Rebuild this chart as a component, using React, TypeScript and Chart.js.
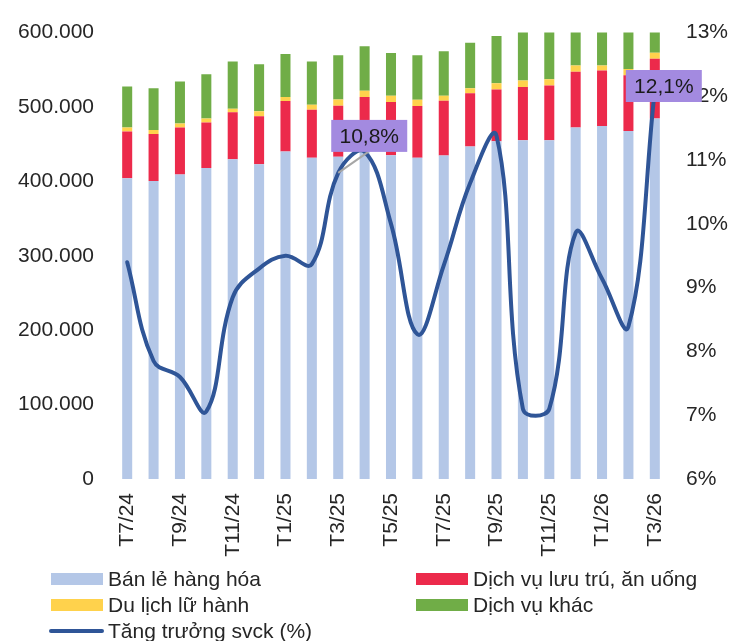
import React, { useEffect, useRef } from 'react';
import { Chart, registerables } from 'chart.js';

Chart.register(...registerables);

const categories = [
  'T7/24', 'T8/24', 'T9/24', 'T10/24', 'T11/24', 'T12/24',
  'T1/25', 'T2/25', 'T3/25', 'T4/25', 'T5/25', 'T6/25', 'T7/25', 'T8/25', 'T9/25', 'T10/25', 'T11/25', 'T12/25',
  'T1/26', 'T2/26', 'T3/26',
];

// Bán lẻ hàng hóa
const banLe = [404300, 400700, 409200, 418000, 429900, 422900, 440200, 431800, 433100, 441000, 435200, 431800, 434800, 446800, 453900, 455200, 455200, 472500, 474300, 467700, 484400];
// Dịch vụ lưu trú, ăn uống
const luuTru = [62900, 63000, 63300, 61100, 63000, 64700, 67800, 64600, 68600, 72300, 71400, 69500, 73600, 71800, 69600, 71800, 73700, 75000, 74900, 74900, 80400];
// Du lịch lữ hành
const duLich = [5300, 5300, 5300, 5300, 4800, 6700, 5300, 6700, 8500, 8400, 8400, 8400, 6600, 6700, 8400, 8500, 8300, 8400, 6700, 8400, 8000];
// Dịch vụ khác
const khac = [55000, 56300, 56400, 59500, 63500, 63300, 58100, 58100, 59300, 59800, 57700, 59800, 59900, 61100, 63400, 65200, 65000, 55000, 55000, 55000, 45000];
// Tăng trưởng svck (%)
const tangTruong = [9.4, 7.85, 7.6, 7.06, 8.85, 9.3, 9.5, 9.37, 10.8, 11.13, 10.0, 8.27, 9.35, 10.64, 11.38, 7.1, 7.1, 9.86, 9.14, 8.39, 12.1];

// indices of points that carry a value label
const labelledIdx = [8, 20];

const leftMax = 600000;
const leftStep = 100000;
const rightMin = 6;
const rightMax = 13;

const FONT = "'Liberation Sans', Arial, sans-serif";
const TEXT = '#262626';
const C_BLUE = '#B4C7E7';
const C_RED = '#EC2A4B';
const C_YELLOW = '#FFD24C';
const C_GREEN = '#70AD47';
const C_LINE = '#2F5597';
const C_LABEL = '#A38AE0';

const fmtThousands = (v: number) => String(v).replace(/\B(?=(\d{3})+(?!\d))/g, '.');
const fmtPct = (v: number) => String(v).replace('.', ',') + '%';

const labelPlugin = {
  id: 'valueLabels',
  afterDatasetsDraw(chart: any) {
    const meta = chart.getDatasetMeta(0);
    const ctx = chart.ctx;
    const styles: Record<number, { dx: number; dy: number; leader: boolean }> = {
      8: { dx: 31, dy: -37, leader: true },
      20: { dx: 9, dy: -4, leader: false },
    };
    ctx.save();
    ctx.font = `21px ${FONT}`;
    labelledIdx.forEach((i) => {
      const pt = meta.data[i];
      if (!pt) return;
      const st = styles[i];
      const cx = pt.x + st.dx;
      const cy = pt.y + st.dy;
      const w = 76;
      const h = 32;
      if (st.leader) {
        ctx.strokeStyle = '#A6A6A6';
        ctx.lineWidth = 2;
        ctx.beginPath();
        ctx.moveTo(pt.x, pt.y);
        ctx.lineTo(cx - 1, cy + h / 2);
        ctx.stroke();
      }
      ctx.fillStyle = C_LABEL;
      ctx.fillRect(cx - w / 2, cy - h / 2, w, h);
      ctx.fillStyle = '#1a1a1a';
      ctx.textAlign = 'center';
      ctx.textBaseline = 'middle';
      ctx.fillText(fmtPct(tangTruong[i]), cx, cy + 1);
    });
    ctx.restore();
  },
};

function Legend() {
  const items = [
    { label: 'Bán lẻ hàng hóa', color: C_BLUE, x: 51, y: 579, line: false },
    { label: 'Dịch vụ lưu trú, ăn uống', color: C_RED, x: 416, y: 579, line: false },
    { label: 'Du lịch lữ hành', color: C_YELLOW, x: 51, y: 605, line: false },
    { label: 'Dịch vụ khác', color: C_GREEN, x: 416, y: 605, line: false },
    { label: 'Tăng trưởng svck (%)', color: C_LINE, x: 49, y: 631, line: true },
  ];
  return (
    <>
      {items.map((it) => (
        <div
          key={it.label}
          style={{
            position: 'absolute',
            left: it.x,
            top: it.y - 13,
            height: 26,
            display: 'flex',
            alignItems: 'center',
            fontFamily: FONT,
            fontSize: 21,
            color: TEXT,
            whiteSpace: 'nowrap',
          }}
        >
          {it.line ? (
            <span style={{ display: 'inline-block', width: 55, height: 4, borderRadius: 2, background: it.color, marginRight: 4 }} />
          ) : (
            <span style={{ display: 'inline-block', width: 52, height: 12, background: it.color, marginRight: 5 }} />
          )}
          <span>{it.label}</span>
        </div>
      ))}
    </>
  );
}

export default function App() {
  const ref = useRef<HTMLCanvasElement | null>(null);

  useEffect(() => {
    if (!ref.current) return;
    const barCommon = {
      type: 'bar' as const,
      yAxisID: 'y',
      order: 1,
      barPercentage: 0.38,
      categoryPercentage: 1,
      borderWidth: 0,
    };
    const chart = new Chart(ref.current, {
      type: 'bar',
      data: {
        labels: categories,
        datasets: [
          {
            type: 'line',
            label: 'Tăng trưởng svck (%)',
            data: tangTruong,
            yAxisID: 'y1',
            order: 0,
            borderColor: C_LINE,
            backgroundColor: C_LINE,
            borderWidth: 4,
            tension: 0.4,
            pointRadius: 0,
            fill: false,
            borderCapStyle: 'round',
          } as any,
          { ...barCommon, label: 'Bán lẻ hàng hóa', data: banLe, backgroundColor: C_BLUE },
          { ...barCommon, label: 'Dịch vụ lưu trú, ăn uống', data: luuTru, backgroundColor: C_RED },
          { ...barCommon, label: 'Du lịch lữ hành', data: duLich, backgroundColor: C_YELLOW },
          { ...barCommon, label: 'Dịch vụ khác', data: khac, backgroundColor: C_GREEN },
        ],
      },
      options: {
        responsive: false,
        animation: false,
        devicePixelRatio: 1,
        layout: { padding: { top: 28, bottom: 0, left: 0, right: 0 } },
        plugins: {
          legend: { display: false },
          tooltip: { enabled: false },
        },
        scales: {
          x: {
            stacked: true,
            grid: { display: false, drawTicks: false },
            border: { display: false },
            ticks: {
              autoSkip: false,
              minRotation: 90,
              maxRotation: 90,
              padding: 14,
              color: TEXT,
              font: { family: FONT, size: 21 },
              callback: (_v: any, i: number) => (i % 2 === 0 ? categories[i] : ''),
            },
            afterFit: (s: any) => {
              s.height = 162;
            },
          },
          y: {
            stacked: true,
            position: 'left',
            min: 0,
            max: leftMax,
            grid: { display: false, drawTicks: false },
            border: { display: false },
            ticks: {
              stepSize: leftStep,
              padding: 20,
              color: TEXT,
              font: { family: FONT, size: 21 },
              callback: (v: any) => fmtThousands(Number(v)),
            },
            afterFit: (s: any) => {
              s.width = 114;
            },
          },
          y1: {
            position: 'right',
            min: rightMin,
            max: rightMax,
            z: 1,
            grid: { display: false, drawTicks: false },
            border: { display: false },
            ticks: {
              stepSize: 1,
              padding: 18,
              color: TEXT,
              font: { family: FONT, size: 21 },
              callback: (v: any) => `${v}%`,
            },
            afterFit: (s: any) => {
              s.width = 82;
            },
          },
        },
      },
      plugins: [labelPlugin],
    });
    return () => chart.destroy();
  }, []);

  return (
    <div style={{ position: 'absolute', left: 0, top: 0, width: 750, height: 641, background: '#fff' }}>
      <canvas ref={ref} width={750} height={641} style={{ position: 'absolute', left: 0, top: 0 }} />
      <Legend />
    </div>
  );
}
